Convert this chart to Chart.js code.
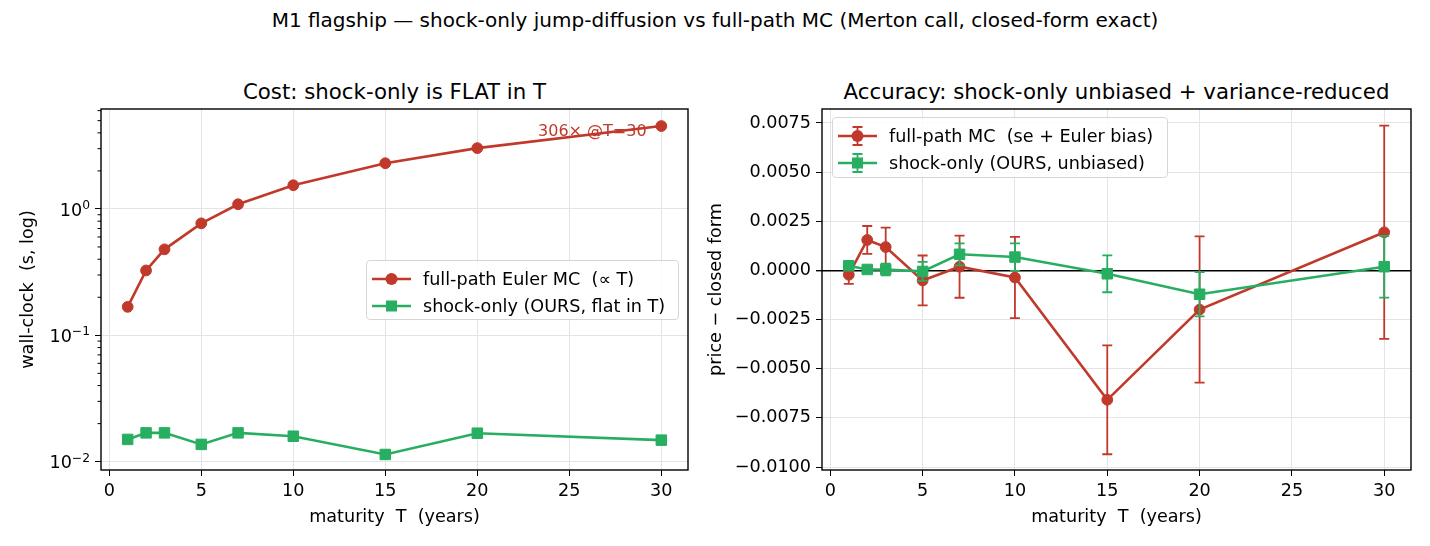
<!DOCTYPE html>
<html>
<head>
<meta charset="utf-8">
<script src="https://cdn.jsdelivr.net/npm/chart.js@4.4.1/dist/chart.umd.min.js"></script>
<style>
body { margin:0; width:1430px; height:546px; background:#fff; position:relative; overflow:hidden; font-family:"DejaVu Sans", sans-serif; color:#000; }
canvas { position:absolute; top:0; }
#costChart { left:0; }
#accChart { left:695px; }
.txt { position:absolute; white-space:pre; text-align:center; line-height:1; }
#sup { left:0; width:1430px; top:10px; font-size:20px; }
.ttl { top:81px; font-size:21.3px; }
.legend { position:absolute; border:1px solid #d6d6d6; border-radius:4px; background:rgba(255,255,255,0.85); box-sizing:border-box; padding:4px 0 0 0; }
.row { display:flex; align-items:center; height:27.5px; font-size:17.6px; white-space:pre; }
.row svg { margin:0 12px 0 5px; }
</style>
</head>
<body>
<div id="sup" class="txt">M1 flagship — shock-only jump-diffusion vs full-path MC (Merton call, closed-form exact)</div>
<div class="txt ttl" style="left:101px;width:587px;">Cost: shock-only is FLAT in T</div>
<div class="txt ttl" style="left:822px;width:589px;">Accuracy: shock-only unbiased + variance-reduced</div>
<canvas id="costChart" width="710" height="546"></canvas>
<canvas id="accChart" width="735" height="546"></canvas>
<div id="legCost" class="legend" style="left:366px;top:260px;width:313px;height:60px;"></div>
<div id="legAcc" class="legend" style="left:832px;top:117px;width:336px;height:61px;"></div>
<script>
// maturities (years)
const maturities = [1, 2, 3, 5, 7, 10, 15, 20, 30];

// wall-clock seconds
const fullPathTime  = [0.168, 0.326, 0.479, 0.769, 1.089, 1.54, 2.30, 3.03, 4.53];
const shockOnlyTime = [0.0150, 0.0169, 0.0169, 0.0137, 0.0169, 0.0159, 0.0114, 0.0168, 0.0148];

// price - closed form, with error bar half widths
const fullPathErr  = [-0.00022, 0.00155, 0.00119, -0.00051, 0.00019, -0.00036, -0.00658, -0.00199, 0.00194];
const fullPathSe   = [0.00046, 0.00071, 0.00099, 0.00127, 0.00158, 0.00207, 0.00277, 0.00372, 0.00542];
const shockOnlyErr = [0.00024, 0.00005, 0.00005, -0.00005, 0.00082, 0.00068, -0.00017, -0.00121, 0.00019];
const shockOnlySe  = [0.0001, 0.0001, 0.0003, 0.00048, 0.00056, 0.0007, 0.00094, 0.00113, 0.00157];

const costLabels = ['full-path Euler MC  (\u221d T)', 'shock-only (OURS, flat in T)'];
const accLabels  = ['full-path MC  (se + Euler bias)', 'shock-only (OURS, unbiased)'];

// ticks
const xTicks = [0, 5, 10, 15, 20, 25, 30];
const logMajor = [0.01, 0.1, 1];
const logExponents = ['\u22122', '\u22121', '0'];
const logMinor = [0.02, 0.03, 0.04, 0.05, 0.06, 0.07, 0.08, 0.09, 0.2, 0.3, 0.4, 0.5, 0.6, 0.7, 0.8, 0.9, 2, 3, 4, 5, 6];
const accTicks = [-0.01, -0.0075, -0.005, -0.0025, 0, 0.0025, 0.005, 0.0075];

const annText = '306\u00d7 @T=30';
const annAt = {x: 29.2, y: 4.1};

const RED = '#c0392b', GREEN = '#27ae60';
const GRID = '#e4e4e4';
const FONT = 'DejaVu Sans';

function pts(ys) { return maturities.map((t, i) => ({x: t, y: ys[i]})); }

const framePlugin = {
    id: 'frame',
    afterDatasetsDraw(chart) {
        let a = chart.chartArea, ctx = chart.ctx;
        ctx.save();
        ctx.strokeStyle = '#000';
        ctx.lineWidth = 1.4;
        ctx.strokeRect(a.left, a.top, a.right - a.left, a.bottom - a.top);
        ctx.restore();
    }
};

// minor tick marks + 10^k labels with a raised exponent
const logAxisPlugin = {
    id: 'logAxis',
    afterDraw(chart) {
        let y = chart.scales.y, ctx = chart.ctx, left = chart.chartArea.left;
        ctx.save();
        ctx.strokeStyle = '#000';
        ctx.lineWidth = 1;
        ctx.beginPath();
        y.ticks.forEach(t => {
            if (logMajor.includes(t.value)) return;
            let py = y.getPixelForValue(t.value);
            ctx.moveTo(left - 3.5, py);
            ctx.lineTo(left, py);
        });
        ctx.stroke();

        ctx.fillStyle = '#000';
        let right = left - 11;
        logMajor.forEach((v, k) => {
            let py = y.getPixelForValue(v);
            ctx.font = '12.3px "' + FONT + '"';
            let ew = ctx.measureText(logExponents[k]).width;
            ctx.textAlign = 'right';
            ctx.textBaseline = 'alphabetic';
            ctx.fillText(logExponents[k], right, py);
            ctx.font = '17.6px "' + FONT + '"';
            ctx.textBaseline = 'middle';
            ctx.fillText('10', right - ew, py + 2);
        });
        ctx.restore();
    }
};

const annPlugin = {
    id: 'ann',
    afterDatasetsDraw(chart) {
        let ctx = chart.ctx;
        ctx.save();
        ctx.font = '16px "' + FONT + '"';
        ctx.fillStyle = RED;
        ctx.textAlign = 'right';
        ctx.textBaseline = 'middle';
        ctx.fillText(annText, chart.scales.x.getPixelForValue(annAt.x), chart.scales.y.getPixelForValue(annAt.y));
        ctx.restore();
    }
};

const errorBarPlugin = {
    id: 'errorBars',
    beforeDatasetDraw(chart, args) {
        let ds = chart.data.datasets[args.index];
        if (!ds.errors) return;
        let ctx = chart.ctx, xs = chart.scales.x, ys = chart.scales.y;
        ctx.save();
        ctx.strokeStyle = ds.borderColor;
        ctx.lineWidth = 1.8;
        ctx.beginPath();
        ds.data.forEach((p, i) => {
            let px = xs.getPixelForValue(p.x);
            let top = ys.getPixelForValue(p.y + ds.errors[i]);
            let bot = ys.getPixelForValue(p.y - ds.errors[i]);
            ctx.moveTo(px, top); ctx.lineTo(px, bot);
            ctx.moveTo(px - 5, top); ctx.lineTo(px + 5, top);
            ctx.moveTo(px - 5, bot); ctx.lineTo(px + 5, bot);
        });
        ctx.stroke();
        ctx.restore();
    }
};

function series(label, data, color, style, order, errors) {
    return {
        label: label,
        data: data,
        borderColor: color,
        backgroundColor: color,
        borderWidth: 2.6,
        tension: 0,
        pointStyle: style,
        pointRadius: style === 'rect' ? 7.4 : 5.4,
        pointBorderWidth: 1,
        pointBackgroundColor: color,
        pointBorderColor: color,
        order: order,
        errors: errors
    };
}

function xScale() {
    return {
        type: 'linear', min: -0.45, max: 31.45,
        afterBuildTicks: s => { s.ticks = xTicks.map(v => ({value: v})); },
        afterFit: s => { s.height = 76; },
        grid: { color: GRID, lineWidth: 1, tickLength: 6, tickColor: '#000' },
        border: { display: false },
        ticks: { font: {family: FONT, size: 17.6}, color: '#000', padding: 5, maxRotation: 0, autoSkip: false },
        title: { display: true, text: 'maturity  T  (years)', color: '#000', font: {family: FONT, size: 17.6}, padding: {top: 0, bottom: 18} }
    };
}

const common = {
    responsive: false,
    animation: false,
    devicePixelRatio: 1,
    plugins: { legend: {display: false}, tooltip: {enabled: false} }
};

new Chart(document.getElementById('costChart'), {
    type: 'line',
    data: {
        datasets: [
            series(costLabels[0], pts(fullPathTime), RED, 'circle', 2),
            series(costLabels[1], pts(shockOnlyTime), GREEN, 'rect', 1)
        ]
    },
    options: Object.assign({}, common, {
        layout: { padding: {top: 109, right: 22, left: 0, bottom: 0} },
        scales: {
            x: xScale(),
            y: {
                type: 'logarithmic', min: 0.00859, max: 6.18,
                afterBuildTicks: s => {
                    s.ticks = logMajor.concat(logMinor).sort((a, b) => a - b).map(v => ({value: v, major: logMajor.includes(v)}));
                },
                afterFit: s => { s.width = 101; },
                grid: {
                    lineWidth: 1, tickLength: 6,
                    color: c => (c.tick && logMajor.includes(c.tick.value)) ? GRID : 'rgba(0,0,0,0)',
                    tickColor: c => (c.tick && logMajor.includes(c.tick.value)) ? '#000' : 'rgba(0,0,0,0)'
                },
                border: { display: false },
                ticks: {
                    font: {family: FONT, size: 17.6}, color: '#000', padding: 5, autoSkip: false,
                    callback: () => ''
                },
                title: { display: true, text: 'wall-clock  (s, log)', color: '#000', font: {family: FONT, size: 17.6}, padding: {top: 18, bottom: 0} }
            }
        }
    }),
    plugins: [framePlugin, logAxisPlugin, annPlugin]
});

new Chart(document.getElementById('accChart'), {
    type: 'line',
    data: {
        datasets: [
            series(accLabels[0], pts(fullPathErr), RED, 'circle', 2, fullPathSe),
            series(accLabels[1], pts(shockOnlyErr), GREEN, 'rect', 1, shockOnlySe)
        ]
    },
    options: Object.assign({}, common, {
        layout: { padding: {top: 109, right: 19, left: 0, bottom: 0} },
        scales: {
            x: xScale(),
            y: {
                type: 'linear', min: -0.01015, max: 0.00821,
                afterBuildTicks: s => { s.ticks = accTicks.map(v => ({value: v})); },
                afterFit: s => { s.width = 127; },
                grid: {
                    tickLength: 6, tickColor: '#000',
                    color: c => (c.tick && c.tick.value === 0) ? '#000' : GRID,
                    lineWidth: c => (c.tick && c.tick.value === 0) ? 1.4 : 1
                },
                border: { display: false },
                ticks: {
                    font: {family: FONT, size: 17.6}, color: '#000', padding: 5, autoSkip: false,
                    callback: v => v.toFixed(4).replace('-', '\u2212')
                },
                title: { display: true, text: 'price \u2212 closed form', color: '#000', font: {family: FONT, size: 17.6}, padding: {top: 11, bottom: 0} }
            }
        }
    }),
    plugins: [errorBarPlugin, framePlugin]
});

// legends
function legendRow(label, color, style, withErr) {
    let mark = style === 'rect'
        ? '<rect x="14" y="6.5" width="11" height="11" fill="' + color + '"/>'
        : '<circle cx="19.5" cy="12" r="6" fill="' + color + '"/>';
    let err = withErr
        ? '<path d="M19.5 3V21M14.5 3H24.5M14.5 21H24.5" stroke="' + color + '" stroke-width="1.8" fill="none"/>'
        : '';
    return '<div class="row"><svg width="39" height="24">' +
        '<line x1="0" y1="12" x2="39" y2="12" stroke="' + color + '" stroke-width="2.6"/>' +
        err + mark + '</svg><span>' + label + '</span></div>';
}
document.getElementById('legCost').innerHTML =
    legendRow(costLabels[0], RED, 'circle', false) + legendRow(costLabels[1], GREEN, 'rect', false);
document.getElementById('legAcc').innerHTML =
    legendRow(accLabels[0], RED, 'circle', true) + legendRow(accLabels[1], GREEN, 'rect', true);
</script>
</body>
</html>
